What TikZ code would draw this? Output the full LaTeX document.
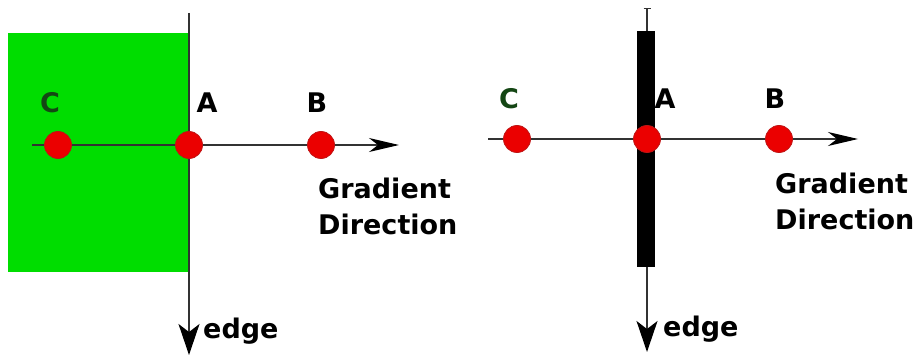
\documentclass[tikz,border=0pt]{standalone}
\usepackage{fontspec}
\setmainfont{DejaVu Sans}
\usetikzlibrary{arrows.meta}
\definecolor{edgegreen}{RGB}{0,221,0}
\definecolor{dotred}{RGB}{235,0,0}
\definecolor{dotrim}{RGB}{190,20,20}
\definecolor{labgreen}{RGB}{20,70,20}
\definecolor{linegray}{RGB}{50,50,50}
\tikzset{
  dot/.style={circle, fill=dotred, draw=dotrim, line width=0.8pt, minimum size=27pt, inner sep=0pt},
  lab/.style={font=\fontsize{27}{32}\bfseries\selectfont, inner sep=0pt},
  axis/.style={draw=linegray, line width=1.3pt},
  hdir/.style={axis, -{Stealth[length=30pt, width=14pt, inset=9pt, color=black, fill=black]}},
  vdir/.style={axis, -{Stealth[length=31pt, width=21pt, inset=8pt, color=black, fill=black]}},
}
\begin{document}
\begin{tikzpicture}[x=1pt, y=-1pt]
\useasboundingbox (0,0) rectangle (917,358);
% ---------- left panel ----------
\fill[edgegreen] (8,33) rectangle (189,272);
\coordinate (lvt) at (189,13);
\coordinate (lvb) at (189,355);
\draw[vdir] (lvt) -- (lvb);
\coordinate (lhl) at (32,145);
\coordinate (lhr) at (399,145);
\draw[hdir] (lhl) -- (lhr);
\node[dot] (lC) at (58,145) {};
\node[dot] (lA) at (189,145) {};
\node[dot] (lB) at (321,145) {};
\node[lab, text=labgreen] (lCl) at (50,103) {C};
\node[lab] (lAl) at (207,103) {A};
\node[lab] (lBl) at (317,103) {B};
\node[lab, anchor=west] (lG) at (318,188) {Gradient};
\node[lab, anchor=west] (lD) at (318,224) {Direction};
\node[lab, anchor=west] (lE) at (203,331) {edge};
% ---------- right panel ----------
\coordinate (rvt) at (647,8);
\coordinate (rvb) at (647,352);
\draw[axis, {Bar[width=7pt]}-{Stealth[length=31pt, width=21pt, inset=8pt, color=black, fill=black]}] (rvt) -- (rvb);
\fill[black] (637,31) rectangle (655,267);
\coordinate (rhl) at (488,139);
\coordinate (rhr) at (858,139);
\draw[hdir] (rhl) -- (rhr);
\node[dot] (rC) at (517,139) {};
\node[dot] (rA) at (647,139) {};
\node[dot] (rB) at (779,139) {};
\node[lab, text=labgreen] (rCl) at (509,99) {C};
\node[lab] (rAl) at (665,99) {A};
\node[lab] (rBl) at (775,99) {B};
\node[lab, anchor=west] (rG) at (775,183) {Gradient};
\node[lab, anchor=west] (rD) at (775,219) {Direction};
\node[lab, anchor=west] (rE) at (663,329) {edge};
\end{tikzpicture}
\end{document}
